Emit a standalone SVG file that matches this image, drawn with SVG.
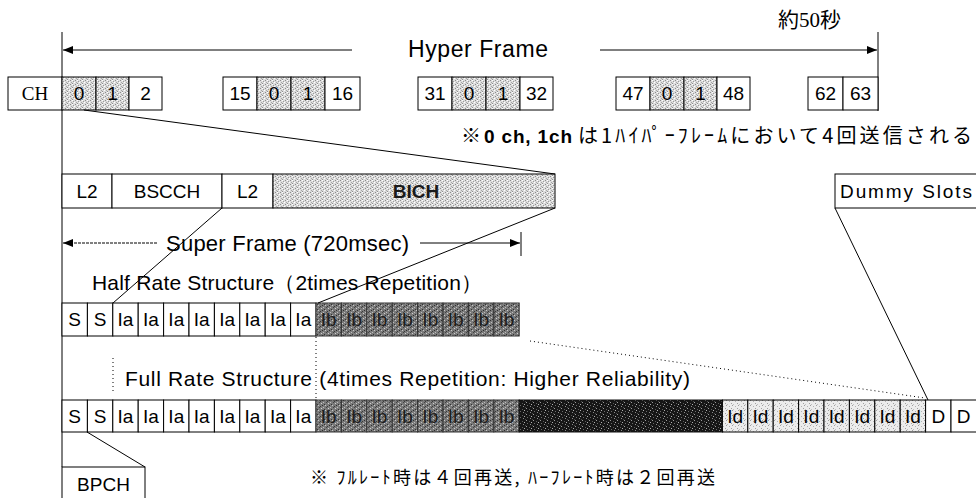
<svg xmlns="http://www.w3.org/2000/svg" width="976" height="498" viewBox="0 0 976 498">
  <style>
    .box { stroke: #000; stroke-width: 1; fill: #fff; }
    .lite { stroke: #000; stroke-width: 1; fill: url(#lite); }
    .mid { stroke: #333; stroke-width: 1; fill: url(#mid); }
    .dark { stroke: #111; stroke-width: 1; fill: url(#dark); }
    .idc { stroke: #000; stroke-width: 1; fill: url(#idp); }
    .t { font-family: "Liberation Sans", Arial, sans-serif; font-size: 19px; fill: #000; text-anchor: middle; }
    .s { font-family: "Liberation Sans", Arial, sans-serif; font-size: 19px; fill: #000; text-anchor: middle; }
    .ib { fill: #1e1e1e; }
    .ti { font-family: "Liberation Sans", Arial, sans-serif; font-size: 21px; fill: #000; }
    .jp { font-family: "Noto Sans CJK JP", "Liberation Sans", sans-serif; fill: #000; }
    .serif { font-family: "Liberation Serif", "Noto Sans CJK JP", serif; fill: #000; }
    .ln { stroke: #000; stroke-width: 1; fill: none; }
    .dot { stroke: #000; stroke-width: 1; fill: none; stroke-dasharray: 1 3; }
  </style>
  <defs>
    <pattern id="lite" width="5" height="4" patternUnits="userSpaceOnUse">
      <rect width="5" height="4" fill="#dcdcdc"/>
      <rect x="0" y="0" width="1" height="1" fill="#8c8c8c"/>
      <rect x="2" y="0" width="1" height="1" fill="#fff"/>
      <rect x="3" y="1" width="1" height="1" fill="#9a9a9a"/>
      <rect x="1" y="2" width="1" height="1" fill="#a8a8a8"/>
      <rect x="4" y="2" width="1" height="1" fill="#fff"/>
      <rect x="2" y="3" width="1" height="1" fill="#8f8f8f"/>
    </pattern>
    <pattern id="mid" width="7" height="5" patternUnits="userSpaceOnUse">
      <rect width="7" height="5" fill="#7a7a7a"/>
      <rect x="0" y="0" width="1" height="1" fill="#2e2e2e"/>
      <rect x="3" y="0" width="1" height="1" fill="#c8c8c8"/>
      <rect x="5" y="1" width="1" height="1" fill="#3a3a3a"/>
      <rect x="1" y="2" width="1" height="1" fill="#bdbdbd"/>
      <rect x="4" y="2" width="1" height="1" fill="#444"/>
      <rect x="6" y="3" width="1" height="1" fill="#d0d0d0"/>
      <rect x="2" y="4" width="1" height="1" fill="#333"/>
    </pattern>
    <pattern id="dark" width="7" height="6" patternUnits="userSpaceOnUse">
      <rect width="7" height="6" fill="#161616"/>
      <rect x="1" y="0" width="1" height="1" fill="#9a9a9a"/>
      <rect x="4" y="1" width="1" height="1" fill="#5a5a5a"/>
      <rect x="6" y="2" width="1" height="1" fill="#b0b0b0"/>
      <rect x="2" y="3" width="1" height="1" fill="#6a6a6a"/>
      <rect x="5" y="4" width="1" height="1" fill="#8a8a8a"/>
      <rect x="0" y="5" width="1" height="1" fill="#4a4a4a"/>
    </pattern>
    <pattern id="idp" width="6" height="5" patternUnits="userSpaceOnUse">
      <rect width="6" height="5" fill="#ececec"/>
      <rect x="0" y="0" width="1" height="1" fill="#9e9e9e"/>
      <rect x="3" y="1" width="1" height="1" fill="#b4b4b4"/>
      <rect x="5" y="3" width="1" height="1" fill="#a0a0a0"/>
      <rect x="1" y="4" width="1" height="1" fill="#c0c0c0"/>
    </pattern>
    <marker id="ah" viewBox="0 0 10 8" refX="10" refY="4" markerWidth="10" markerHeight="8" markerUnits="userSpaceOnUse" orient="auto">
      <path d="M0,0 L10,4 L0,8 z" fill="#000"/>
    </marker>
  </defs>

  <!-- span markers: hyper frame -->
  <g id="hyperframe">
    <line class="ln" x1="62" y1="32" x2="62" y2="467"/>
    <line class="ln" x1="878" y1="32" x2="878" y2="111"/>
    <line class="ln" x1="352" y1="50" x2="63" y2="50" marker-end="url(#ah)"/>
    <line class="ln" x1="600" y1="50" x2="877" y2="50" marker-end="url(#ah)"/>
    <text class="ti" x="408" y="57" style="font-size:23px" textLength="140" lengthAdjust="spacing">Hyper Frame</text>
    <text class="serif" x="778" y="27" style="font-size:21px">約50秒</text>
  </g>

  <!-- channel row -->
  <g id="ch-row">
    <rect class="box" x="8" y="77" width="54" height="33"/>
    <text class="serif" x="35" y="100" style="font-size:19px" text-anchor="middle">CH</text>
    <rect class="lite" x="62" y="77" width="34" height="33"/><text class="t" x="79" y="100">0</text>
    <rect class="lite" x="96" y="77" width="33" height="33"/><text class="t" x="112.5" y="100">1</text>
    <rect class="box" x="129" y="77" width="33" height="33"/><text class="t" x="145.5" y="100">2</text>
    <rect class="box" x="223" y="77" width="34" height="33"/><text class="t" x="240" y="100">15</text>
    <rect class="lite" x="257" y="77" width="34" height="33"/><text class="t" x="274" y="100">0</text>
    <rect class="lite" x="291" y="77" width="34" height="33"/><text class="t" x="308" y="100">1</text>
    <rect class="box" x="325" y="77" width="35" height="33"/><text class="t" x="342.5" y="100">16</text>
    <rect class="box" x="418" y="77" width="34" height="33"/><text class="t" x="435" y="100">31</text>
    <rect class="lite" x="452" y="77" width="34" height="33"/><text class="t" x="469" y="100">0</text>
    <rect class="lite" x="486" y="77" width="34" height="33"/><text class="t" x="503" y="100">1</text>
    <rect class="box" x="520" y="77" width="33" height="33"/><text class="t" x="536.5" y="100">32</text>
    <rect class="box" x="616" y="77" width="34" height="33"/><text class="t" x="633" y="100">47</text>
    <rect class="lite" x="650" y="77" width="34" height="33"/><text class="t" x="667" y="100">0</text>
    <rect class="lite" x="684" y="77" width="33" height="33"/><text class="t" x="700.5" y="100">1</text>
    <rect class="box" x="717" y="77" width="33" height="33"/><text class="t" x="733.5" y="100">48</text>
    <rect class="box" x="808" y="77" width="35" height="33"/><text class="t" x="825.5" y="100">62</text>
    <rect class="box" x="843" y="77" width="35" height="33"/><text class="t" x="860.5" y="100">63</text>
  </g>

  <g id="note-hyper">
    <text class="jp" x="461" y="143" style="font-size:20px">※</text>
    <text x="484" y="143" style="font-family:'Liberation Sans',Arial,sans-serif;font-size:19px;font-weight:bold" textLength="88" lengthAdjust="spacing">0 ch, 1ch</text>
    <text class="jp" x="578" y="143" style="font-size:20px" textLength="394" lengthAdjust="spacing">は1ﾊｲﾊﾟｰﾌﾚｰﾑにおいて4回送信される</text>
  </g>

  <!-- logical channels in one slot -->
  <g id="slot-content">
    <rect class="box" x="62" y="174" width="50" height="34"/><text class="t" x="87" y="198">L2</text>
    <rect class="box" x="112" y="174" width="110" height="34"/><text class="t" x="167" y="198">BSCCH</text>
    <rect class="box" x="222" y="174" width="51" height="34"/><text class="t" x="247.5" y="198">L2</text>
    <rect class="lite" x="273" y="174" width="282" height="34"/><text class="t" x="416" y="198" style="font-weight:bold;fill:#1a1a1a">BICH</text>
  </g>

  <g id="dummy-slots">
    <rect class="box" x="835" y="174" width="150" height="34"/>
    <text class="t" x="840" y="198" style="text-anchor:start" textLength="132" lengthAdjust="spacing">Dummy Slots</text>
  </g>

  <g id="superframe">
    <line x1="157" y1="243" x2="63" y2="243" stroke="#000" stroke-width="1" stroke-dasharray="3 1" marker-end="url(#ah)"/>
    <line class="ln" x1="420" y1="243" x2="520" y2="243" marker-end="url(#ah)"/>
    <line class="ln" x1="521" y1="232" x2="521" y2="256"/>
    <text class="ti" x="166" y="251" style="font-size:22px" textLength="243" lengthAdjust="spacing">Super Frame (720msec)</text>
  </g>

  <!-- half rate structure -->
  <g id="half-rate">
    <text class="ti" x="92" y="290" textLength="390" lengthAdjust="spacing">Half Rate Structure（2times Repetition）</text>
    <rect class="box" x="62" y="303" width="25.4" height="33"/><text class="s" x="74.7" y="326">S</text>
    <rect class="box" x="87.4" y="303" width="25.4" height="33"/><text class="s" x="100.1" y="326">S</text>
    <rect class="box" x="112.8" y="303" width="25.4" height="33"/><text class="s" x="125.5" y="326">Ia</text>
    <rect class="box" x="138.2" y="303" width="25.4" height="33"/><text class="s" x="150.9" y="326">Ia</text>
    <rect class="box" x="163.6" y="303" width="25.4" height="33"/><text class="s" x="176.3" y="326">Ia</text>
    <rect class="box" x="189" y="303" width="25.4" height="33"/><text class="s" x="201.7" y="326">Ia</text>
    <rect class="box" x="214.4" y="303" width="25.4" height="33"/><text class="s" x="227.1" y="326">Ia</text>
    <rect class="box" x="239.8" y="303" width="25.4" height="33"/><text class="s" x="252.5" y="326">Ia</text>
    <rect class="box" x="265.2" y="303" width="25.4" height="33"/><text class="s" x="277.9" y="326">Ia</text>
    <rect class="box" x="290.6" y="303" width="25.4" height="33"/><text class="s" x="303.3" y="326">Ia</text>
    <rect class="mid" x="316" y="303" width="25.4" height="33"/><text class="s ib" x="328.7" y="326">Ib</text>
    <rect class="mid" x="341.4" y="303" width="25.4" height="33"/><text class="s ib" x="354.1" y="326">Ib</text>
    <rect class="mid" x="366.8" y="303" width="25.4" height="33"/><text class="s ib" x="379.5" y="326">Ib</text>
    <rect class="mid" x="392.2" y="303" width="25.4" height="33"/><text class="s ib" x="404.9" y="326">Ib</text>
    <rect class="mid" x="417.6" y="303" width="25.4" height="33"/><text class="s ib" x="430.3" y="326">Ib</text>
    <rect class="mid" x="443" y="303" width="25.4" height="33"/><text class="s ib" x="455.7" y="326">Ib</text>
    <rect class="mid" x="468.4" y="303" width="25.4" height="33"/><text class="s ib" x="481.1" y="326">Ib</text>
    <rect class="mid" x="493.8" y="303" width="25.4" height="33"/><text class="s ib" x="506.5" y="326">Ib</text>
  </g>

  <!-- full rate structure -->
  <g id="full-rate">
    <text class="ti" x="125" y="386" textLength="565" lengthAdjust="spacing">Full Rate Structure (4times Repetition: Higher Reliability)</text>
    <rect class="box" x="62" y="400" width="25.4" height="32"/><text class="s" x="74.7" y="423">S</text>
    <rect class="box" x="87.4" y="400" width="25.4" height="32"/><text class="s" x="100.1" y="423">S</text>
    <rect class="box" x="112.8" y="400" width="25.4" height="32"/><text class="s" x="125.5" y="423">Ia</text>
    <rect class="box" x="138.2" y="400" width="25.4" height="32"/><text class="s" x="150.9" y="423">Ia</text>
    <rect class="box" x="163.6" y="400" width="25.4" height="32"/><text class="s" x="176.3" y="423">Ia</text>
    <rect class="box" x="189" y="400" width="25.4" height="32"/><text class="s" x="201.7" y="423">Ia</text>
    <rect class="box" x="214.4" y="400" width="25.4" height="32"/><text class="s" x="227.1" y="423">Ia</text>
    <rect class="box" x="239.8" y="400" width="25.4" height="32"/><text class="s" x="252.5" y="423">Ia</text>
    <rect class="box" x="265.2" y="400" width="25.4" height="32"/><text class="s" x="277.9" y="423">Ia</text>
    <rect class="box" x="290.6" y="400" width="25.4" height="32"/><text class="s" x="303.3" y="423">Ia</text>
    <rect class="mid" x="316" y="400" width="25.4" height="32"/><text class="s ib" x="328.7" y="423">Ib</text>
    <rect class="mid" x="341.4" y="400" width="25.4" height="32"/><text class="s ib" x="354.1" y="423">Ib</text>
    <rect class="mid" x="366.8" y="400" width="25.4" height="32"/><text class="s ib" x="379.5" y="423">Ib</text>
    <rect class="mid" x="392.2" y="400" width="25.4" height="32"/><text class="s ib" x="404.9" y="423">Ib</text>
    <rect class="mid" x="417.6" y="400" width="25.4" height="32"/><text class="s ib" x="430.3" y="423">Ib</text>
    <rect class="mid" x="443" y="400" width="25.4" height="32"/><text class="s ib" x="455.7" y="423">Ib</text>
    <rect class="mid" x="468.4" y="400" width="25.4" height="32"/><text class="s ib" x="481.1" y="423">Ib</text>
    <rect class="mid" x="493.8" y="400" width="25.4" height="32"/><text class="s ib" x="506.5" y="423">Ib</text>
    <rect class="dark" x="519.2" y="400" width="203.2" height="32"/>
    <rect class="idc" x="722.4" y="400" width="25.4" height="32"/><text class="s" x="735.1" y="423">Id</text>
    <rect class="idc" x="747.8" y="400" width="25.4" height="32"/><text class="s" x="760.5" y="423">Id</text>
    <rect class="idc" x="773.2" y="400" width="25.4" height="32"/><text class="s" x="785.9" y="423">Id</text>
    <rect class="idc" x="798.6" y="400" width="25.4" height="32"/><text class="s" x="811.3" y="423">Id</text>
    <rect class="idc" x="824" y="400" width="25.4" height="32"/><text class="s" x="836.7" y="423">Id</text>
    <rect class="idc" x="849.4" y="400" width="25.4" height="32"/><text class="s" x="862.1" y="423">Id</text>
    <rect class="idc" x="874.8" y="400" width="25.4" height="32"/><text class="s" x="887.5" y="423">Id</text>
    <rect class="idc" x="900.2" y="400" width="25.4" height="32"/><text class="s" x="912.9" y="423">Id</text>
    <rect class="box" x="925.6" y="400" width="25.4" height="32"/><text class="s" x="938.3" y="423">D</text>
    <rect class="box" x="951" y="400" width="30" height="32"/><text class="s" x="963.7" y="423">D</text>
  </g>

  <g id="bpch">
    <rect class="box" x="62" y="467" width="83" height="40"/>
    <text class="t" x="103.5" y="491">BPCH</text>
  </g>

  <g id="note-repeat">
    <text class="jp" x="310" y="484" style="font-size:18px" textLength="405" lengthAdjust="spacing">※ ﾌﾙﾚｰﾄ時は４回再送, ﾊｰﾌﾚｰﾄ時は２回再送</text>
  </g>

  <!-- expansion lines -->
  <g id="connectors">
    <line class="ln" x1="84" y1="110" x2="555" y2="174"/>
    <line class="ln" x1="222" y1="208" x2="113" y2="303"/>
    <line class="ln" x1="555" y1="208" x2="318" y2="303"/>
    <line class="ln" x1="835" y1="208" x2="928" y2="400"/>
    <line class="ln" x1="87" y1="432" x2="145" y2="467"/>
    <line class="dot" x1="530" y1="341" x2="925" y2="398"/>
    <line class="dot" x1="113" y1="358" x2="113" y2="392"/>
    <line class="dot" x1="316" y1="337" x2="316" y2="399"/>
  </g>
</svg>
